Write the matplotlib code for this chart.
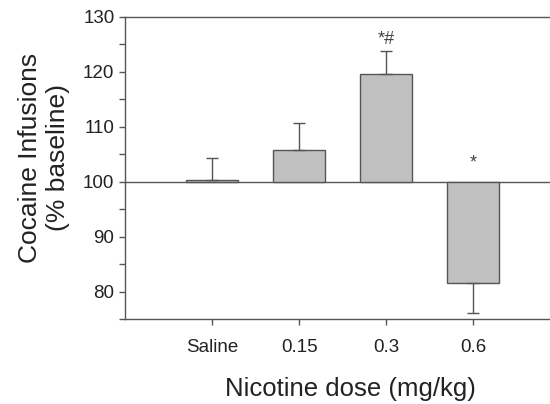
import numpy as np
import matplotlib.pyplot as plt
from matplotlib.ticker import MultipleLocator

plt.rcParams['font.family'] = ['Liberation Sans', 'DejaVu Sans']

doses = ['Saline', '0.15', '0.3', '0.6']
means = [100.4, 105.8, 119.6, 81.6]
sems = [4.0, 4.9, 4.2, 5.4]
marks = ['', '', '*#', '*']

baseline = 100
edge = '#555555'

fig = plt.figure(figsize=(5.5, 4.04), dpi=100)
ax = fig.add_axes([0.227, 0.210, 0.773, 0.748])

x = np.arange(1, len(doses) + 1)
heights = np.array(means) - baseline
ax.bar(x, heights, width=0.6, bottom=baseline, color='#c0c0c0',
       edgecolor=edge, linewidth=1.0, zorder=2)

# one-sided error bars (away from baseline)
up = [s if m >= baseline else 0 for m, s in zip(means, sems)]
down = [s if m < baseline else 0 for m, s in zip(means, sems)]
ax.errorbar(x, means, yerr=[down, up], fmt='none', ecolor=edge,
            elinewidth=1.0, capsize=4.5, capthick=1.0, zorder=3)

for xi, m, s, t in zip(x, means, sems, marks):
    if not t:
        continue
    ypos = m + s + 2.1 if m >= baseline else baseline + 3.4
    ax.text(xi, ypos, t, ha='center', va='center', fontsize=13,
            color='#444444')

ax.axhline(baseline, color=edge, linewidth=1.0, zorder=1)

ax.set_xlim(0, 4.88)
ax.set_ylim(75, 130)
ax.set_xticks(x)
ax.set_xticklabels(doses)
ax.yaxis.set_major_locator(MultipleLocator(10))
ax.yaxis.set_minor_locator(MultipleLocator(5))
ax.tick_params(axis='both', which='both', direction='out', length=4,
               width=1.0, color=edge, labelsize=13.5, labelcolor='#222222')
ax.tick_params(axis='x', pad=10)

for side in ['left', 'bottom', 'top']:
    ax.spines[side].set_color(edge)
    ax.spines[side].set_linewidth(1.0)
ax.spines['right'].set_visible(False)

ax.set_xlabel('Nicotine dose (mg/kg)', fontsize=18.5, color='#222222')
ax.set_ylabel('Cocaine Infusions\n(% baseline)', fontsize=19, color='#222222',
              linespacing=1.2)
ax.xaxis.set_label_coords(0.53, -0.193)
ax.yaxis.set_label_coords(-0.13, 0.535)

plt.savefig('out.png', dpi=100)
